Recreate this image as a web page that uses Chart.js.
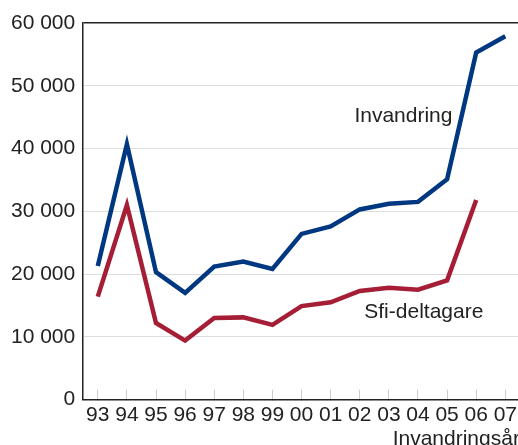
<!DOCTYPE html>
<html>
<head>
<meta charset="utf-8">
<script src="https://cdn.jsdelivr.net/npm/chart.js@4/dist/chart.umd.min.js"></script>
<style>
  html, body { margin: 0; padding: 0; background: #fff; overflow: hidden; }
  #wrap { width: 530px; height: 452px; }
</style>
</head>
<body>
<div id="wrap"><canvas id="myChart"></canvas></div>
<script>
// Data for the chart
const years = ["93", "94", "95", "96", "97", "98", "99", "00", "01", "02", "03", "04", "05", "06", "07"];
const invandring = [21300, 40700, 20300, 17000, 21200, 22000, 20800, 26400, 27600, 30300, 31200, 31500, 35100, 55300, 57900];
const sfiDeltagare = [16400, 31000, 12200, 9400, 13000, 13100, 11900, 14900, 15500, 17300, 17800, 17500, 19000, 31800, null];

// Series labels written inside the plot (x as category index, y as value)
const seriesLabels = [
    { text: "Invandring", x: 10.5, y: 45200 },
    { text: "Sfi-deltagare", x: 11.2, y: 13900 }
];

const textColor = "#222";
const fontFamily = "'Liberation Sans', Arial, sans-serif";

const inlineLabels = {
    id: "inlineLabels",
    afterDatasetsDraw(chart) {
        const { ctx, scales: { x, y } } = chart;
        ctx.save();
        ctx.fillStyle = textColor;
        ctx.font = "21px " + fontFamily;
        ctx.textAlign = "center";
        ctx.textBaseline = "middle";
        seriesLabels.forEach(l => {
            ctx.fillText(l.text, x.getPixelForValue(l.x), y.getPixelForValue(l.y));
        });
        ctx.restore();
    }
};

const data = {
    labels: years,
    datasets: [{
        label: "Invandring",
        data: invandring,
        borderColor: "#003781",
        borderWidth: 4.5,
        pointRadius: 0,
        tension: 0,
        fill: false
    }, {
        label: "Sfi-deltagare",
        data: sfiDeltagare,
        borderColor: "#a51e36",
        borderWidth: 4.5,
        pointRadius: 0,
        tension: 0,
        fill: false
    }]
};

const config = {
    type: "line",
    data: data,
    plugins: [inlineLabels],
    options: {
        responsive: true,
        maintainAspectRatio: false,
        animation: false,
        layout: { padding: { top: 23, right: 0, bottom: 0, left: 3 } },
        plugins: {
            legend: { display: false },
            tooltip: { enabled: false }
        },
        scales: {
            x: {
                offset: true,
                grid: {
                    offset: false,
                    drawOnChartArea: false,
                    drawTicks: true,
                    tickLength: -10,
                    tickColor: "#cccccc",
                    tickWidth: 1
                },
                border: { color: textColor, width: 1.5 },
                ticks: {
                    color: textColor,
                    font: { size: 21, family: fontFamily },
                    padding: 13,
                    maxRotation: 0,
                    autoSkip: false
                },
                title: {
                    display: true,
                    text: "Invandringsår",
                    align: "end",
                    color: textColor,
                    font: { size: 21, family: fontFamily },
                    padding: { top: -14, bottom: 0 }
                }
            },
            y: {
                min: 0,
                max: 60000,
                grid: {
                    drawTicks: false,
                    color: ctx => ctx.tick && ctx.tick.value === 60000 ? textColor : "#dddddd",
                    lineWidth: ctx => ctx.tick && ctx.tick.value === 60000 ? 1.5 : 1
                },
                border: { color: textColor, width: 1.5 },
                ticks: {
                    stepSize: 10000,
                    color: textColor,
                    font: { size: 21, family: fontFamily },
                    padding: 8,
                    callback: v => String(v).replace(/\B(?=(\d{3})+(?!\d))/g, " ")
                }
            }
        }
    }
};

// Create the chart
const lineChart = new Chart(document.getElementById("myChart"), config);
</script>
</body>
</html>
